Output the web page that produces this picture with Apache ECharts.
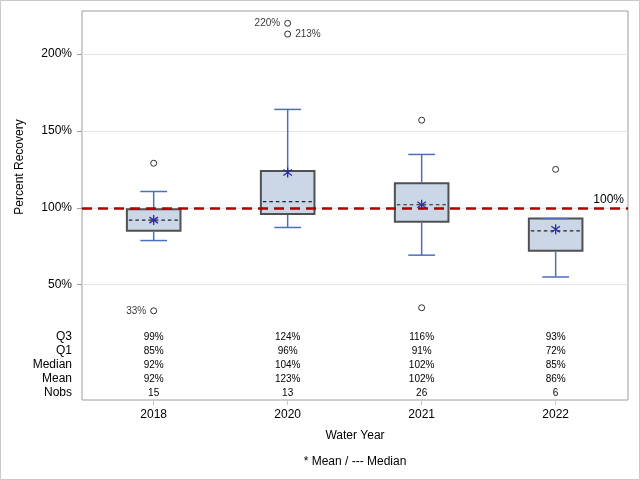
<!DOCTYPE html>
<html>
<head>
<meta charset="utf-8">
<script src="https://cdn.jsdelivr.net/npm/echarts@6/dist/echarts.min.js"></script>
<style>html,body{margin:0;padding:0;background:#fff}#c{width:640px;height:480px}</style>
</head>
<body>
<div id="c"></div>
<script>
const years = ['2018', '2020', '2021', '2022'];
const q1 = [85, 96, 91, 72];
const median = [92, 104, 102, 85];
const q3 = [99, 124, 116, 93];
const mean = [92, 123, 102, 86];
const whiskerLow = [78.7, 87.2, 69.2, 55];
const whiskerHigh = [110.6, 164, 134.7, 93];
const nobs = [15, 13, 26, 6];
const outliers = [[0, 129], [0, 33], [1, 220], [1, 213], [2, 157], [2, 35], [3, 125]];
const labeledOutliers = { '1:220': 'left', '1:213': 'right', '0:33': 'left' };
const yTicks = [50, 100, 150, 200];
const refValue = 100;
const tableRows = ['Q3', 'Q1', 'Median', 'Mean', 'Nobs'];

const FONT = '"Liberation Sans", Arial, sans-serif';
const chart = echarts.init(document.getElementById('c'), null, { renderer: 'canvas' });

const boxData = years.map((y, i) => [i, q1[i], median[i], q3[i], whiskerLow[i], whiskerHigh[i], mean[i]]);
const tableData = years.map((y, i) => [i, q3[i], q1[i], median[i], mean[i], nobs[i]]);

function renderBox(params, api) {
  const x = api.value(0);
  const pQ1 = api.coord([x, api.value(1)]);
  const pMed = api.coord([x, api.value(2)]);
  const pQ3 = api.coord([x, api.value(3)]);
  const pLo = api.coord([x, api.value(4)]);
  const pHi = api.coord([x, api.value(5)]);
  const pMean = api.coord([x, api.value(6)]);
  const unit = api.size([1, 0])[0];
  const cx = pQ1[0];
  const bw = unit * 0.4, cw = unit * 0.2;
  const blue = '#4a70bd';
  const children = [];
  children.push({ type: 'rect', shape: { x: cx - bw / 2, y: pQ3[1], width: bw, height: pQ1[1] - pQ3[1] },
    style: { fill: '#cbd6e6', stroke: '#505050', lineWidth: 2 } });
  if (pHi[1] < pQ3[1]) children.push({ type: 'line', shape: { x1: cx, y1: pHi[1], x2: cx, y2: pQ3[1] - 1 }, style: { stroke: blue, lineWidth: 1.5 } });
  children.push({ type: 'line', shape: { x1: cx, y1: pQ1[1] + 1, x2: cx, y2: pLo[1] }, style: { stroke: blue, lineWidth: 1.5 } });
  children.push({ type: 'line', shape: { x1: cx - cw / 2, y1: pHi[1], x2: cx + cw / 2, y2: pHi[1] }, style: { stroke: blue, lineWidth: 1.5 } });
  children.push({ type: 'line', shape: { x1: cx - cw / 2, y1: pLo[1], x2: cx + cw / 2, y2: pLo[1] }, style: { stroke: blue, lineWidth: 1.5 } });
  children.push({ type: 'line', shape: { x1: cx - bw / 2 + 2, y1: pMed[1], x2: cx + bw / 2 - 2, y2: pMed[1] },
    style: { stroke: '#222', lineWidth: 1.2, lineDash: [3.5, 3] } });
  const my = pMean[1], s = 5, d = 4.3;
  const star = '#2a2aa6';
  children.push({ type: 'line', shape: { x1: cx, y1: my - s, x2: cx, y2: my + s }, style: { stroke: star, lineWidth: 1.3 } });
  children.push({ type: 'line', shape: { x1: cx - d, y1: my - s * 0.6, x2: cx + d, y2: my + s * 0.6 }, style: { stroke: star, lineWidth: 1.3 } });
  children.push({ type: 'line', shape: { x1: cx - d, y1: my + s * 0.6, x2: cx + d, y2: my - s * 0.6 }, style: { stroke: star, lineWidth: 1.3 } });
  return { type: 'group', children };
}

function renderTable(params, api) {
  const x = api.value(0);
  const cx = api.coord([x, 0])[0];
  const cs = params.coordSys;
  const bottom = cs.y + cs.height;
  const offsets = [63, 49, 35, 21, 7];
  const children = [];
  for (let r = 0; r < 5; r++) {
    const v = api.value(r + 1);
    children.push({ type: 'text', x: cx, y: bottom - offsets[r],
      style: { text: r === 4 ? String(v) : v + '%', fill: '#000', font: '10px ' + FONT, textAlign: 'center', textVerticalAlign: 'middle' } });
    if (params.dataIndex === 0) {
      children.push({ type: 'text', x: cs.x - 10, y: bottom - offsets[r],
        style: { text: tableRows[r], fill: '#000', font: '12px ' + FONT, textAlign: 'right', textVerticalAlign: 'middle' } });
    }
  }
  return { type: 'group', children };
}

const outlierData = outliers.map(p => {
  const side = labeledOutliers[p[0] + ':' + p[1]];
  const item = { value: p };
  if (side) {
    item.label = { show: true, position: side, distance: 4, formatter: p[1] + '%', fontSize: 10, color: '#000', fontFamily: FONT };
  }
  return item;
});

const option = {
  animation: false,
  backgroundColor: '#fff',
  textStyle: { fontFamily: FONT },
  grid: { left: 82, right: 12, top: 11, bottom: 80, show: true, borderColor: '#9c9c9c', borderWidth: 1, backgroundColor: 'transparent' },
  xAxis: {
    type: 'value', min: -0.535, max: 3.54,
    name: 'Water Year', nameLocation: 'middle', nameGap: 30,
    nameTextStyle: { fontSize: 12, color: '#000', fontFamily: FONT },
    axisLine: { show: false, onZero: false },
    axisTick: { show: true, customValues: [0, 1, 2, 3], length: 5, lineStyle: { color: '#c8c8c8' } },
    axisLabel: { customValues: [0, 1, 2, 3], formatter: v => years[Math.round(v)], fontSize: 12, color: '#000', margin: 9, fontFamily: FONT },
    splitLine: { show: false }
  },
  yAxis: {
    type: 'value', min: -25, max: 228,
    axisLine: { show: false, onZero: false },
    axisTick: { show: true, customValues: yTicks, length: 5, lineStyle: { color: '#9c9c9c' } },
    axisLabel: { customValues: yTicks, formatter: v => v + '%', fontSize: 12, color: '#000', margin: 10, fontFamily: FONT },
    splitLine: { show: true, lineStyle: { color: '#e4e4e4', width: 1 } }
  },
  graphic: [
    { type: 'rect', z: 100, shape: { x: 0.5, y: 0.5, width: 639, height: 479 }, style: { fill: 'none', stroke: '#c8c8c8', lineWidth: 1 } },
    { type: 'text', x: 20, y: 167, rotation: Math.PI / 2, style: { text: 'Percent Recovery', font: '12px ' + FONT, fill: '#000', textAlign: 'center', textVerticalAlign: 'middle' } },
    { type: 'text', x: 355, y: 462, style: { text: '* Mean / --- Median', font: '12px ' + FONT, fill: '#000', textAlign: 'center', textVerticalAlign: 'middle' } }
  ],
  series: [
    { type: 'custom', name: 'box', renderItem: renderBox, data: boxData, z: 3, silent: true },
    { type: 'custom', name: 'table', renderItem: renderTable, data: tableData, z: 3, silent: true },
    {
      type: 'scatter', name: 'outliers', data: outlierData, symbol: 'circle', symbolSize: 6, z: 4,
      itemStyle: { color: 'rgba(255,255,255,0)', borderColor: '#000', borderWidth: 1 },
      markLine: {
        silent: true, symbol: 'none', z: 5,
        lineStyle: { color: '#a80000', width: 2.5, type: [10, 6] },
        label: { show: true, position: 'insideEndTop', formatter: refValue + '%', fontSize: 12, color: '#000', fontFamily: FONT, distance: [4, 2] },
        data: [{ yAxis: refValue }]
      }
    }
  ]
};
chart.setOption(option);
</script>
</body>
</html>
